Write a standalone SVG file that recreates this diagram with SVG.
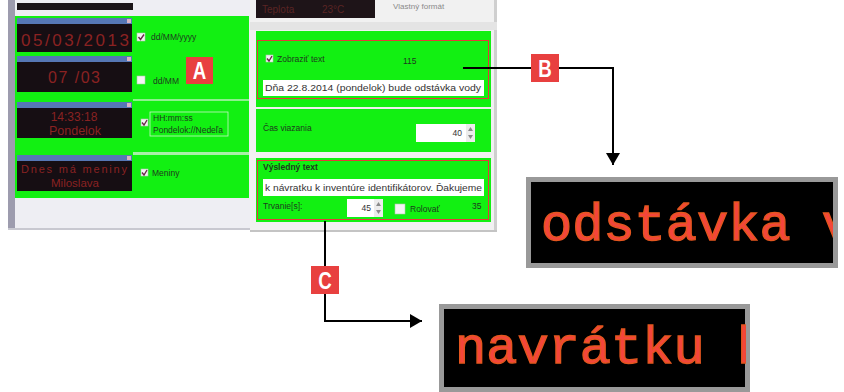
<svg xmlns="http://www.w3.org/2000/svg" width="844" height="392" viewBox="0 0 844 392">
<style>
.ui{font-family:"Liberation Sans",Arial,sans-serif;font-size:8.5px;fill:#1e3a1e}
.tx{font-family:"Liberation Sans",Arial,sans-serif;font-size:8.5px;fill:#333}
.led{font-family:"Liberation Sans",Arial,sans-serif;fill:#8a2222;text-anchor:middle}
.lbl{font-family:"Liberation Sans",Arial,sans-serif;font-weight:bold;font-size:24px;fill:#fff;text-anchor:middle}
.lblbox{fill:#e8403f}
.conn{fill:none;stroke:#000;stroke-width:2}
.big{font-family:"Liberation Mono","DejaVu Sans Mono",monospace;font-size:52px;fill:#f4453b;stroke:#e4561f;stroke-width:1.4}
.green{fill:#12f012}
.cb{fill:#f4f4f4;stroke:#b0c8b0;stroke-width:0.6}
.chk{fill:none;stroke:#6a2a4a;stroke-width:1.4}
.wtitle{fill:#5677b5}
.wbody{fill:#160e13}
.wclose{fill:#d8b4c4}
.redframe{fill:none;stroke:#e53a3a;stroke-width:1}
.tbox{fill:#fff}
</style>
<defs>
<marker id="arr" markerUnits="userSpaceOnUse" markerWidth="12" markerHeight="14" viewBox="0 0 12 14" refX="12" refY="7" orient="auto">
<path d="M0,0 L12,7 L0,14 z" fill="#000"/>
</marker>
<clipPath id="clipB"><rect x="531" y="182" width="302" height="81"/></clipPath>
<clipPath id="clipC"><rect x="444" y="309" width="302" height="78"/></clipPath>
</defs>
<rect width="844" height="392" fill="#fff"/>

<g id="left-panel">
<rect x="8" y="0" width="242" height="230" fill="#eeeef3"/>
<rect x="8" y="0" width="7" height="230" fill="#9d9cae"/>
<rect x="8" y="228" width="242" height="2" fill="#c8c8d0"/>
<rect x="17" y="3" width="116" height="7" fill="#1a1418"/>
<rect class="green" x="15" y="16" width="234" height="182"/>
<rect x="133" y="99" width="116" height="2" fill="#8ef08e"/>
<rect x="133" y="152" width="116" height="3" fill="#a8f0a8"/>
</g>

<g id="widget-date">
<rect class="wtitle" x="17" y="18" width="115" height="6"/>
<rect class="wclose" x="127" y="19" width="4" height="4"/>
<rect class="wbody" x="17" y="24" width="115" height="28"/>
<text class="led" x="75" y="46" font-size="17" fill="#7e2020" textLength="108" lengthAdjust="spacing">05/03/2013</text>
</g>
<g id="widget-short-date">
<rect class="wtitle" x="17" y="56" width="115" height="6"/>
<rect class="wclose" x="127" y="57" width="4" height="4"/>
<rect class="wbody" x="17" y="62" width="115" height="30"/>
<text class="led" x="74" y="83" font-size="16" fill="#7e2020" textLength="52" lengthAdjust="spacing">07 /03</text>
</g>
<g id="widget-time">
<rect class="wtitle" x="17" y="102" width="115" height="6"/>
<rect class="wclose" x="127" y="103" width="4" height="4"/>
<rect class="wbody" x="17" y="108" width="115" height="30"/>
<text class="led" x="74" y="121" font-size="12" fill="#9a2626">14:33:18</text>
<text class="led" x="75" y="135" font-size="12.5" fill="#a02828">Pondelok</text>
</g>
<g id="widget-names">
<rect class="wtitle" x="17" y="155" width="115" height="6"/>
<rect class="wclose" x="127" y="156" width="4" height="4"/>
<rect class="wbody" x="17" y="161" width="115" height="30"/>
<text class="led" x="74" y="173" font-size="11" fill="#a02828" textLength="106" lengthAdjust="spacing">Dnes má meniny</text>
<text class="led" x="75" y="187" font-size="11.5" fill="#a02828">Miloslava</text>
</g>

<g id="options-left">
<rect class="cb" x="137" y="33" width="8" height="8"/>
<path class="chk" d="M138.5,37 L140.5,39.5 L144,34.5"/>
<text class="ui" x="151" y="40">dd/MM/yyyy</text>
<rect class="cb" x="137" y="76" width="8" height="8"/>
<text class="ui" x="153" y="84">dd/MM</text>
<rect class="cb" x="141" y="119" width="7" height="7"/>
<path class="chk" d="M142,122.5 L144,125 L147,120"/>
<rect x="150" y="112" width="78" height="24" fill="none" stroke="#c8f4c8" stroke-width="0.8"/>
<text class="ui" x="153" y="121">HH:mm:ss</text>
<text class="ui" x="153" y="133">Pondelok://Nedeľa</text>
<rect class="cb" x="141" y="169" width="7" height="7"/>
<path class="chk" d="M142,172.5 L144,175 L147,170"/>
<text class="ui" x="152" y="176">Meniny</text>
</g>

<g id="right-panel">
<rect x="250" y="0" width="247" height="232" fill="#f1f1f1"/>
<rect x="494" y="0" width="3" height="232" fill="#cfcfcf"/>
<rect x="250" y="230" width="247" height="2" fill="#c4c4c4"/>
<rect x="256" y="0" width="119" height="18" fill="#1e1418"/>
<text x="262" y="13" font-family="Liberation Sans, sans-serif" font-size="10" fill="#5a2424">Teplota</text>
<text x="322" y="13" font-family="Liberation Sans, sans-serif" font-size="10" fill="#5a2424">23°C</text>
<text x="393" y="9" font-family="Liberation Sans, sans-serif" font-size="8" fill="#8a8a8a">Vlastný formát</text>
<rect x="250" y="22" width="247" height="8" fill="#e4e4e4"/>
</g>

<g id="panel-text">
<rect class="green" x="256" y="31" width="235" height="76"/>
<rect class="redframe" x="257.5" y="40.5" width="231" height="58"/>
<rect class="cb" x="266" y="55" width="7" height="7"/>
<path class="chk" d="M267,58.5 L269,61 L272,56"/>
<text class="ui" x="277" y="62">Zobraziť text</text>
<text class="ui" x="403" y="64">115</text>
<rect class="tbox" x="263" y="80" width="221" height="16"/>
<text class="tx" x="265" y="91" textLength="216" lengthAdjust="spacingAndGlyphs">Dňa 22.8.2014 (pondelok) bude odstávka vody</text>
</g>

<g id="panel-time">
<rect class="green" x="256" y="109" width="235" height="43"/>
<text class="ui" x="263" y="131">Čas viazania</text>
<rect class="tbox" x="416" y="124" width="50" height="18"/>
<text class="tx" x="462" y="136" text-anchor="end">40</text>
<rect x="466" y="124" width="9" height="18" fill="#ececec"/>
<path d="M468,131 L470.5,127 L473,131 z M468,135 L470.5,139 L473,135 z" fill="#8a8a8a"/>
</g>

<g id="panel-result">
<rect class="green" x="256" y="158" width="235" height="64"/>
<rect class="redframe" x="257.5" y="160.5" width="231" height="59"/>
<text class="ui" x="263" y="170" font-weight="bold">Výsledný text</text>
<rect class="tbox" x="263" y="179" width="221" height="17"/>
<text class="tx" x="265" y="191" textLength="217" lengthAdjust="spacingAndGlyphs">k návratku k inventúre identifikátorov. Ďakujeme</text>
<text class="ui" x="263" y="209">Trvanie[s]:</text>
<rect class="tbox" x="347" y="199" width="27" height="18"/>
<text class="tx" x="371" y="211" text-anchor="end">45</text>
<rect x="374" y="199" width="9" height="18" fill="#ececec"/>
<path d="M376,206 L378.5,202 L381,206 z M376,210 L378.5,214 L381,210 z" fill="#8a8a8a"/>
<rect class="cb" x="395" y="204" width="10" height="10"/>
<text class="ui" x="410" y="212">Rolovať</text>
<text class="ui" x="472" y="209">35</text>
</g>

<g id="connectors">
<path class="conn" d="M463,68 H613 V165" marker-end="url(#arr)"/>
<path class="conn" d="M325,221 V321 H422" marker-end="url(#arr)"/>
</g>

<g id="label-A">
<rect class="lblbox" x="186" y="57" width="27" height="27"/>
<text class="lbl" transform="translate(199.5,79) scale(0.78,1)">A</text>
</g>
<g id="label-B">
<rect class="lblbox" x="531" y="54" width="28" height="28"/>
<text class="lbl" transform="translate(545,77) scale(0.78,1)">B</text>
</g>
<g id="label-C">
<rect class="lblbox" x="311" y="266" width="28" height="28"/>
<text class="lbl" transform="translate(325,289) scale(0.78,1)">C</text>
</g>

<g id="led-B">
<rect x="528.5" y="179.5" width="307" height="86" fill="#000" stroke="#999" stroke-width="5"/>
<text class="big" x="541" y="240" clip-path="url(#clipB)">odstávka v</text>
</g>
<g id="led-C">
<rect x="441.5" y="306.5" width="306" height="83" fill="#000" stroke="#999" stroke-width="5"/>
<text class="big" x="455" y="363" clip-path="url(#clipC)">navrátku k</text>
</g>
</svg>
